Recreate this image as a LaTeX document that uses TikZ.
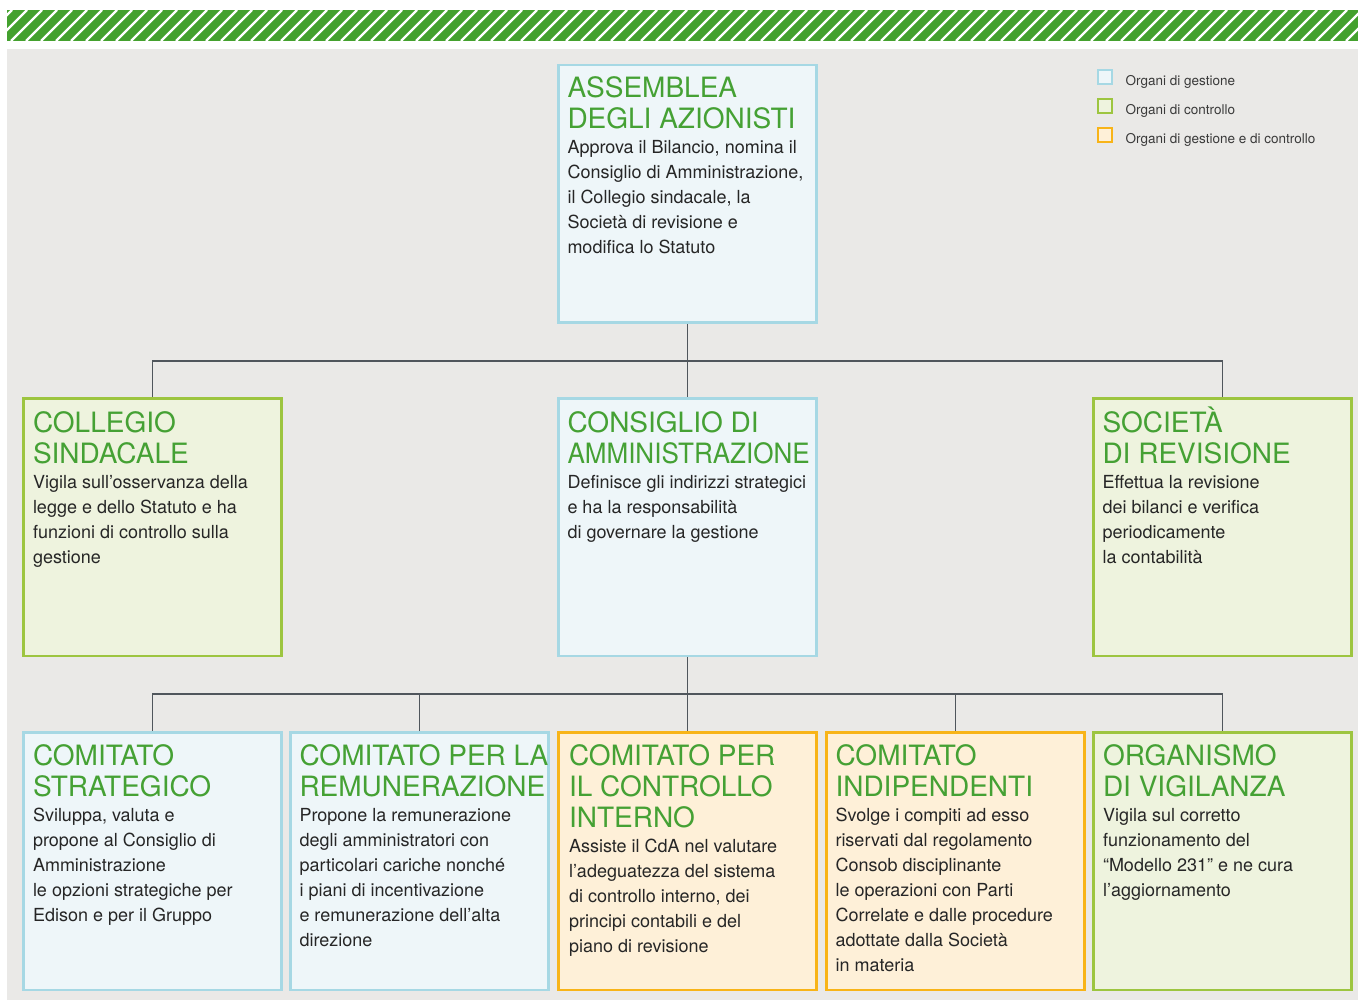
\documentclass[tikz,border=0pt]{standalone}
\usepackage{graphicx}
\usepackage{fontspec}
\setmainfont{TeX Gyre Heros}
\definecolor{titlegreen}{HTML}{45A134}
\definecolor{bodytext}{HTML}{262626}
\definecolor{gestfill}{HTML}{EEF6F9}
\definecolor{gestdraw}{HTML}{A6D8E4}
\definecolor{contfill}{HTML}{EEF3DE}
\definecolor{contdraw}{HTML}{9DC540}
\definecolor{bothfill}{HTML}{FEF0D8}
\definecolor{bothdraw}{HTML}{F8B418}
\definecolor{panelgray}{HTML}{EAE9E7}
\definecolor{stripegreen}{HTML}{44A12E}
\definecolor{linkgray}{HTML}{50565C}
\definecolor{legendtext}{HTML}{3A3A3A}
\newcommand\ttlfont{\fontsize{28}{31}\selectfont\color{titlegreen}}
\newcommand\bdyfont{\fontsize{18}{25}\selectfont\color{bodytext}}
\newcommand\orgtext[2]{\parbox[t]{262pt}{\raggedright\leavevmode\ttlfont #1\par\leavevmode\bdyfont #2}}
\begin{document}
\begin{tikzpicture}[x=1pt,y=-1pt,
  orgbox/.style={rectangle, line width=2.5pt, minimum width=258pt, minimum height=257.5pt, inner sep=0pt, anchor=north west},
  gestbox/.style={orgbox, draw=gestdraw, fill=gestfill},
  contbox/.style={orgbox, draw=contdraw, fill=contfill},
  bothbox/.style={orgbox, draw=bothdraw, fill=bothfill},
  txt/.style={anchor=base west, inner sep=0pt, outer sep=0pt},
  link/.style={draw=linkgray, line width=1.3pt},
  legsq/.style={rectangle, line width=2pt, minimum size=14pt, inner sep=0pt, anchor=north west},
  legtxt/.style={anchor=base west, inner sep=0pt, font=\fontsize{13.5}{16}\selectfont, text=legendtext}]
\useasboundingbox (0,0) rectangle (1358,1000);
\fill[white] (0,0) rectangle (1358,1000);
% header stripe
\begin{scope}
  \clip (7,10) rectangle (1358,41);
  \fill[stripegreen] (7,10) rectangle (1358,41);
  \foreach \i in {-1,...,91} {
    \draw[white, line width=2.4pt] ({\i*15-19},41) -- ({\i*15+12},10);
  }
\end{scope}
% panel
\fill[panelgray] (7,49) rectangle (1358,1000);

% boxes
\node[gestbox] (ass) at (557,64) {};
\node[contbox] (col) at (22,397) {};
\node[gestbox] (cda) at (557,397) {};
\node[contbox] (soc) at (1092,397) {};
\node[gestbox] (c1) at (22,731) {};
\node[gestbox] (c2) at (289,731) {};
\node[bothbox] (c3) at (557,731) {};
\node[bothbox] (c4) at (825,731) {};
\node[contbox] (c5) at (1092,731) {};

% connectors
\coordinate (bus1) at (688,361);
\coordinate (bus2) at (688,694);
\draw[link] (ass.south) -- (cda.north);
\draw[link] (col.north) |- (bus1) -| (soc.north);
\draw[link] (cda.south) -- (c3.north);
\draw[link] (c1.north) |- (bus2) -| (c5.north);
\draw[link] (c2.north) |- (bus2);
\draw[link] (c4.north) |- (bus2);

% texts
\node[txt] (t-ass) at ([shift={(10.5,34)}]ass.north west) {\orgtext{ASSEMBLEA\\DEGLI AZIONISTI}{Approva il Bilancio, nomina il\\Consiglio di Amministrazione,\\il Collegio sindacale, la\\Società di revisione e\\modifica lo Statuto}};
\node[txt] (t-col) at ([shift={(11,35)}]col.north west) {\orgtext{COLLEGIO\\SINDACALE}{Vigila sull’osservanza della\\legge e dello Statuto e ha\\funzioni di controllo sulla\\gestione}};
\node[txt] (t-cda) at ([shift={(10.5,35)}]cda.north west) {\orgtext{CONSIGLIO DI\\\scalebox{0.93}[1]{AMMINISTRAZIONE}}{Definisce gli indirizzi strategici\\e ha la responsabilità\\di governare la gestione}};
\node[txt] (t-soc) at ([shift={(10.5,35)}]soc.north west) {\orgtext{SOCIETÀ\\DI REVISIONE}{Effettua la revisione\\dei bilanci e verifica\\periodicamente\\la contabilità}};
\node[txt] (t-c1) at ([shift={(11,34.5)}]c1.north west) {\orgtext{COMITATO\\STRATEGICO}{Sviluppa, valuta e\\propone al Consiglio di\\Amministrazione\\le opzioni strategiche per\\Edison e per il Gruppo}};
\node[txt] (t-c2) at ([shift={(10.5,34.5)}]c2.north west) {\orgtext{COMITATO PER LA\\REMUNERAZIONE}{Propone la remunerazione\\degli amministratori con\\particolari cariche nonché\\i piani di incentivazione\\e remunerazione dell’alta\\direzione}};
\node[txt] (t-c3) at ([shift={(12,34.5)}]c3.north west) {\orgtext{COMITATO PER\\IL CONTROLLO\\INTERNO}{Assiste il CdA nel valutare\\l’adeguatezza del sistema\\di controllo interno, dei\\principi contabili e del\\piano di revisione}};
\node[txt] (t-c4) at ([shift={(10.5,34.5)}]c4.north west) {\orgtext{COMITATO\\INDIPENDENTI}{Svolge i compiti ad esso\\riservati dal regolamento\\Consob disciplinante\\le operazioni con Parti\\Correlate e dalle procedure\\adottate dalla Società\\in materia}};
\node[txt] (t-c5) at ([shift={(11,34.5)}]c5.north west) {\orgtext{ORGANISMO\\DI VIGILANZA}{Vigila sul corretto\\funzionamento del\\“Modello 231” e ne cura\\l’aggiornamento}};

% legend
\node[legsq, draw=gestdraw, fill=gestfill] (lg1) at (1097,69) {};
\node[legsq, draw=contdraw, fill=contfill] (lg2) at (1097,98) {};
\node[legsq, draw=bothdraw, fill=bothfill] (lg3) at (1097,127) {};
\node[legtxt] (lt1) at (1125.5,85.5) {Organi di gestione};
\node[legtxt] (lt2) at (1125.5,114.5) {Organi di controllo};
\node[legtxt] (lt3) at (1125.5,143.5) {Organi di gestione e di controllo};
\end{tikzpicture}
\end{document}
